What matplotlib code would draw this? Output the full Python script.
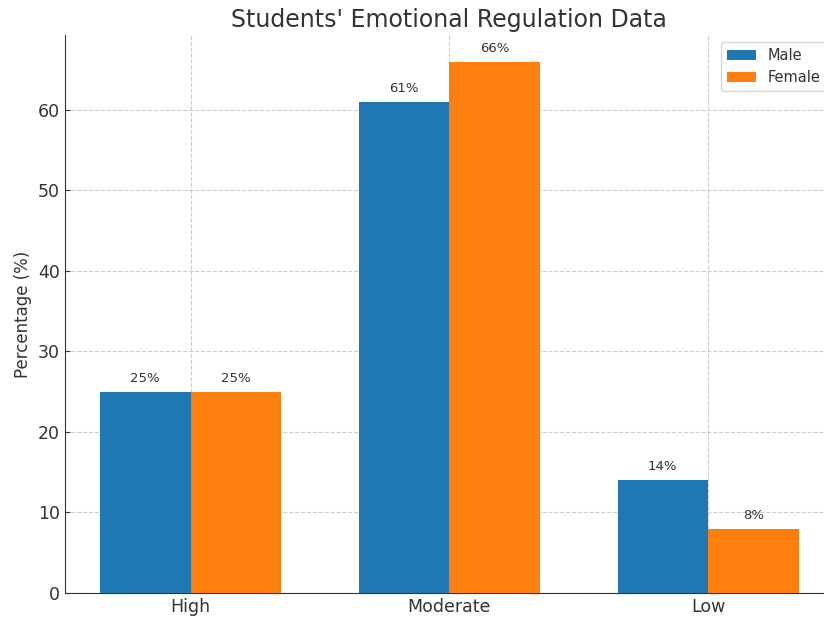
import numpy as np
import matplotlib.pyplot as plt

# data
categories = ['High', 'Moderate', 'Low']
male = [25, 61, 14]
female = [25, 66, 8]

plt.rcParams['text.color'] = '#333333'
plt.rcParams['axes.labelcolor'] = '#333333'
plt.rcParams['xtick.color'] = '#333333'
plt.rcParams['ytick.color'] = '#333333'

fig = plt.figure(figsize=(8.24, 6.19), dpi=100)
# axes runs a bit past the right edge, like the cropped original
ax = fig.add_axes([65 / 824, 26 / 619, 768.6 / 824, 558 / 619])

x = np.arange(len(categories))
width = 0.35
bars_m = ax.bar(x - width / 2, male, width, label='Male', color='#1f77b4', zorder=3)
bars_f = ax.bar(x + width / 2, female, width, label='Female', color='#ff7f0e', zorder=3)

for bars in (bars_m, bars_f):
    for b in bars:
        ax.annotate(f'{int(b.get_height())}%',
                    xy=(b.get_x() + b.get_width() / 2, b.get_height()),
                    xytext=(0, 5), textcoords='offset points',
                    ha='center', va='bottom', fontsize=9.5, color='#333333')

ax.set_xticks(x)
ax.set_xticklabels(categories, fontsize=12.5)
ax.tick_params(axis='both', direction='in', length=3.5)
ax.tick_params(axis='y', labelsize=12.5)
ax.set_ylabel('Percentage (%)', fontsize=12)
ax.set_title("Students' Emotional Regulation Data", fontsize=17, pad=6)

ax.grid(True, linestyle='--', color='#cccccc', linewidth=0.8, zorder=0)
ax.spines['top'].set_visible(False)
ax.spines['right'].set_visible(False)
ax.spines['left'].set_color('#333333')
ax.spines['bottom'].set_color('#333333')

ax.legend(loc='upper right', fontsize=10.5)

fig.savefig('out.png', dpi=100)
